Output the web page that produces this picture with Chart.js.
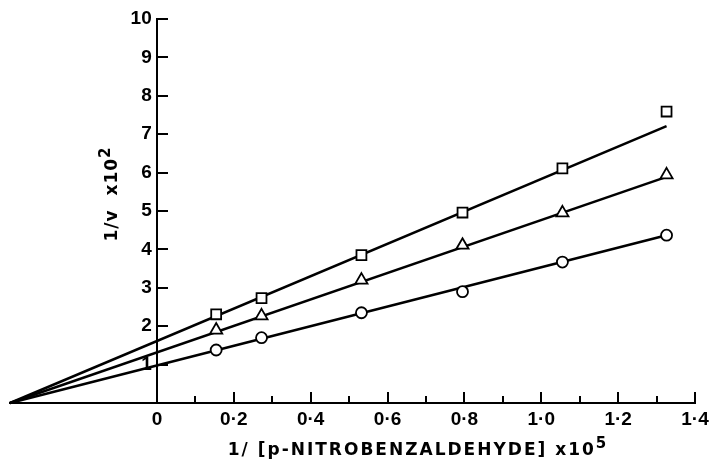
<!DOCTYPE html>
<html>
<head>
<meta charset="utf-8">
<script src="https://cdn.jsdelivr.net/npm/chart.js@4.4.1/dist/chart.umd.min.js"></script>
<style>
  html, body { margin: 0; padding: 0; background: #fff; }
  #wrap { width: 711px; height: 462px; }
</style>
</head>
<body>
<div id="wrap"><canvas id="plot" width="711" height="462"></canvas></div>
<script>
// ----------------------------------------------------------------
//  Data (x = 1/[S] x10^5, y = 1/v x10^2)
// ----------------------------------------------------------------
const xValues   = [0.154, 0.272, 0.532, 0.795, 1.055, 1.326];
const squareY   = [2.31, 2.73, 3.85, 4.96, 6.11, 7.59];
const triangleY = [1.90, 2.27, 3.20, 4.11, 4.95, 5.94];
const circleY   = [1.38, 1.70, 2.35, 2.90, 3.67, 4.37];

// fitted lines: common intercept on the x axis, end at last point
const fitX        = [-0.3825, 1.326];
const squareFit   = [0, 7.21];
const triangleFit = [0, 5.89];
const circleFit   = [0, 4.37];

const xMajorTicks = [0, 0.2, 0.4, 0.6, 0.8, 1.0, 1.2, 1.4];
const xMinorTicks = [0.1, 0.3, 0.5, 0.7, 0.9, 1.1, 1.3];
const yTicks      = [1, 2, 3, 4, 5, 6, 7, 8, 9, 10];

const FONT = 'DejaVu Sans';
const TICK_FONT = 'Liberation Sans';
const toPts = (xs, ys) => xs.map((x, i) => ({ x, y: ys[i] }));

const markerSet = (label, ys, style, r) => ({
  label,
  data: toPts(xValues, ys),
  pointStyle: style,
  pointRadius: r,
  pointBorderWidth: 1.8,
  pointBorderColor: '#000',
  pointBackgroundColor: '#fff',
  showLine: false,
  clip: false,
});

const fitSet = (label, ys) => ({
  label,
  data: toPts(fitX, ys),
  showLine: true,
  borderColor: '#000',
  borderWidth: 2.5,
  pointRadius: 0,
  clip: false,
});

// ----------------------------------------------------------------
//  Axis titles (canvas text)
// ----------------------------------------------------------------
const axisTitles = {
  id: 'axisTitles',
  afterDraw(chart) {
    const { ctx, chartArea } = chart;
    ctx.save();
    ctx.fillStyle = '#000';
    ctx.textBaseline = 'alphabetic';
    ctx.textAlign = 'left';

    // x title
    ctx.letterSpacing = '2px';
    const main = '1/ [p-NITROBENZALDEHYDE] x10';
    ctx.font = `bold 17px "${FONT}"`;
    const w1 = ctx.measureText(main).width;
    ctx.font = `bold 15px "${FONT}"`;
    const w2 = ctx.measureText('5').width;
    const x0 = 418 - (w1 + w2) / 2;
    const yb = chartArea.bottom + 52;
    ctx.font = `bold 17px "${FONT}"`;
    ctx.fillText(main, x0, yb);
    ctx.font = `bold 15px "${FONT}"`;
    ctx.fillText('5', x0 + w1, yb - 7);

    // y title (rotated)
    ctx.letterSpacing = '1px';
    ctx.translate(117, 194);
    ctx.rotate(-Math.PI / 2);
    const ym = '1/v  x10';
    ctx.font = `bold 17px "${FONT}"`;
    const v1 = ctx.measureText(ym).width;
    ctx.font = `bold 15px "${FONT}"`;
    const v2 = ctx.measureText('2').width;
    const s = -(v1 + v2) / 2;
    ctx.font = `bold 17px "${FONT}"`;
    ctx.fillText(ym, s, 0);
    ctx.font = `bold 15px "${FONT}"`;
    ctx.fillText('2', s + v1, -7);
    ctx.restore();
  }
};

const fmtX = v => (v === 0 ? '0' : v.toFixed(1).replace('.', '\u00B7'));
// keep label overhang from shrinking the plot area
const noPad = s => { s.paddingLeft = 0; s.paddingRight = 0; s.paddingTop = 0; s.paddingBottom = 0; };

new Chart(document.getElementById('plot'), {
  type: 'scatter',
  data: {
    datasets: [
      markerSet('square', squareY, 'rect', 7),
      markerSet('triangle', triangleY, 'triangle', 7),
      markerSet('circle', circleY, 'circle', 5.5),
      fitSet('square fit', squareFit),
      fitSet('triangle fit', triangleFit),
      fitSet('circle fit', circleFit),
    ]
  },
  options: {
    responsive: false,
    animation: false,
    layout: { padding: { left: 10, right: 16, top: 19, bottom: 59 } },
    plugins: { legend: { display: false }, tooltip: { enabled: false } },
    scales: {
      x: {
        type: 'linear',
        min: -0.3825, max: 1.4,
        position: { y: 0 },
        afterBuildTicks: s => { s.ticks = xMajorTicks.map(value => ({ value })); },
        afterFit: noPad,
        border: { display: true, color: '#000', width: 2 },
        grid: { drawOnChartArea: false, drawTicks: true, tickLength: -12, color: '#000', lineWidth: 2 },
        ticks: {
          color: '#000', padding: 17, maxRotation: 0, autoSkip: false,
          font: { family: TICK_FONT, size: 19, weight: 'bold' },
          callback: v => fmtX(v)
        }
      },
      x2: {
        type: 'linear',
        axis: 'x',
        min: -0.3825, max: 1.4,
        position: { y: 0 },
        afterBuildTicks: s => { s.ticks = xMinorTicks.map(value => ({ value })); },
        afterFit: noPad,
        border: { display: false },
        grid: { drawOnChartArea: false, drawTicks: true, tickLength: -7, color: '#000', lineWidth: 2 },
        ticks: { display: false }
      },
      y: {
        type: 'linear',
        min: 0, max: 10,
        position: { x: 0 },
        afterBuildTicks: s => { s.ticks = yTicks.map(value => ({ value })); },
        afterFit: noPad,
        border: { display: true, color: '#000', width: 2 },
        grid: { drawOnChartArea: false, drawTicks: true, tickLength: -12, color: '#000', lineWidth: 2 },
        ticks: {
          color: '#000', padding: 19, autoSkip: false,
          font: { family: TICK_FONT, size: 19, weight: 'bold' },
          callback: v => String(v) + ' '
        }
      }
    }
  },
  plugins: [axisTitles]
});
</script>
</body>
</html>
